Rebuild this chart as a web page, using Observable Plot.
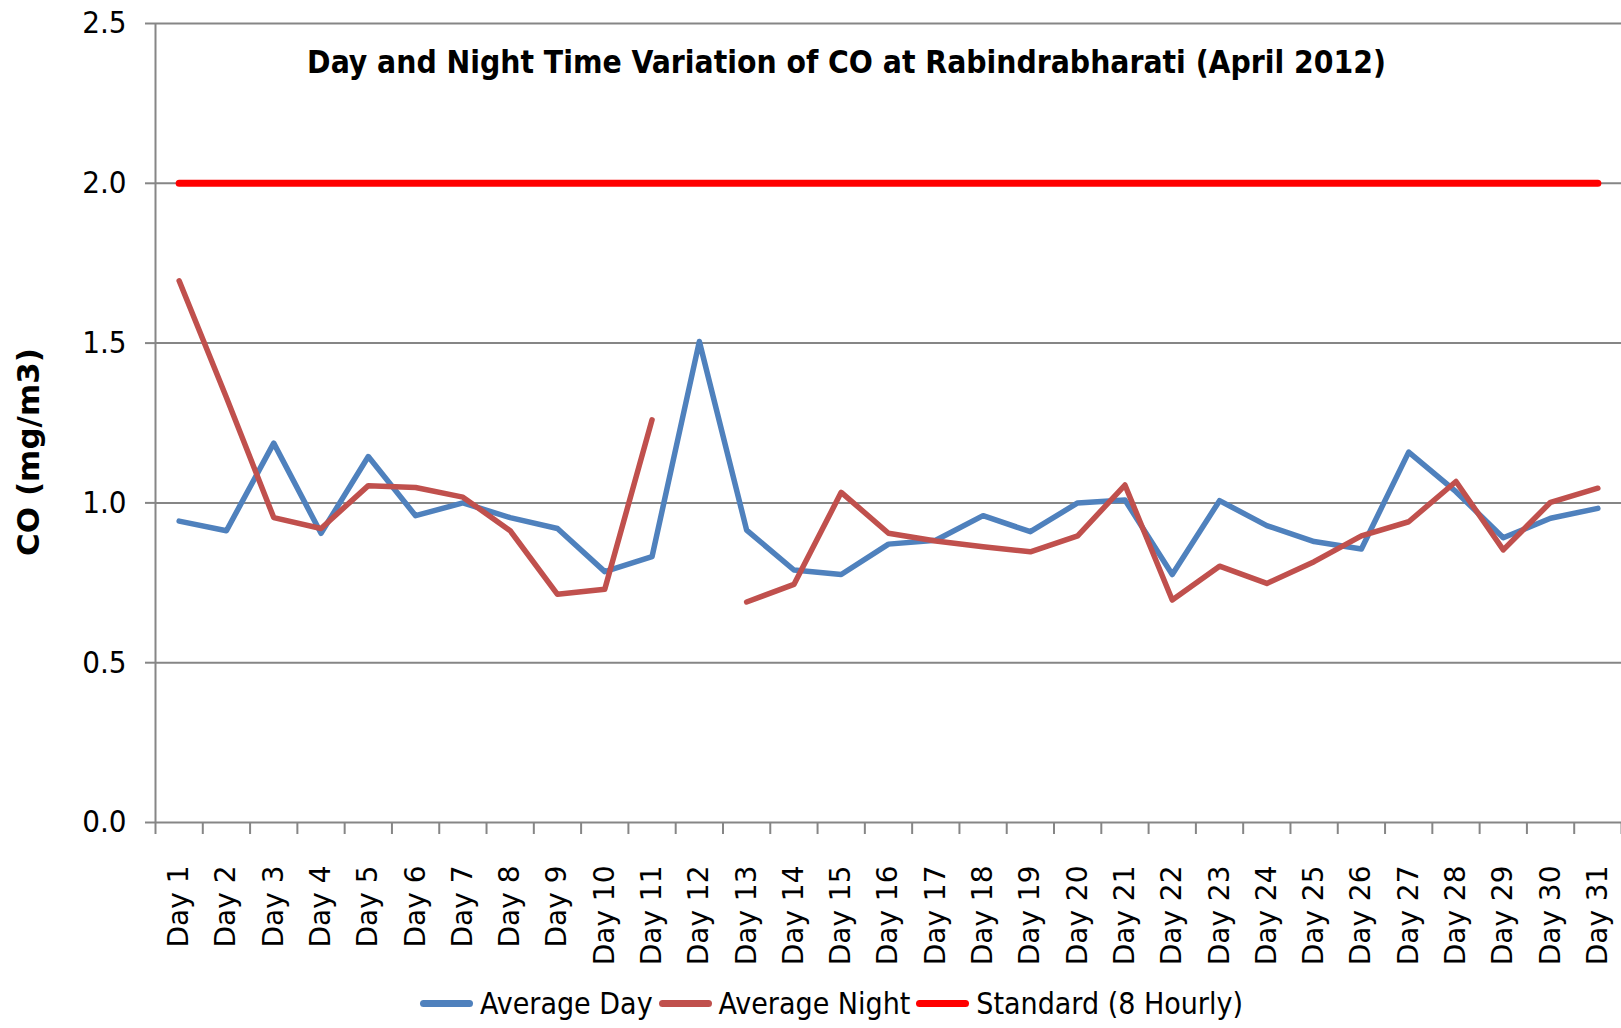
<!DOCTYPE html>
<html>
<head>
<meta charset="utf-8">
<script src="https://cdn.jsdelivr.net/npm/d3@7"></script>
<script src="https://cdn.jsdelivr.net/npm/@observablehq/plot@0.6"></script>
<style>
  html, body { margin: 0; padding: 0; background: white; }
  #wrap { width: 1621px; height: 1028px; position: relative; overflow: hidden; }
  .legend { position: absolute; top: 975px; left: 24px; width: 1621px; height: 56px;
    display: flex; justify-content: center; align-items: center;
    font-family: "Liberation Sans Narrow", "DejaVu Sans Condensed", "Arial Narrow", sans-serif;
    font-size: 30px; color: #000; }
  .legend .item { display: flex; align-items: center; margin-right: 6px; }
  .legend .sw { width: 53px; height: 7px; border-radius: 4px; margin-right: 7px; }
</style>
</head>
<body>
<div id="wrap"></div>
<script>
const titleText = "Day and Night Time Variation of CO at Rabindrabharati (April 2012)";
const yLabel = "CO (mg/m3)";
const dayLabels = ["Day 1","Day 2","Day 3","Day 4","Day 5","Day 6","Day 7","Day 8","Day 9","Day 10",
  "Day 11","Day 12","Day 13","Day 14","Day 15","Day 16","Day 17","Day 18","Day 19","Day 20",
  "Day 21","Day 22","Day 23","Day 24","Day 25","Day 26","Day 27","Day 28","Day 29","Day 30","Day 31"];
const averageDay = [0.943,0.913,1.187,0.905,1.145,0.96,1.0,0.954,0.92,0.785,
  0.832,1.505,0.915,0.79,0.776,0.871,0.883,0.96,0.91,1.0,
  1.009,0.776,1.007,0.929,0.879,0.856,1.159,1.035,0.891,0.952,0.983];
const averageNight = [1.695,1.33,0.954,0.92,1.054,1.048,1.018,0.913,0.714,0.73,
  1.26,null,0.69,0.745,1.033,0.905,0.881,0.863,0.847,0.897,
  1.056,0.696,0.802,0.748,0.816,0.897,0.941,1.067,0.853,1.002,1.046];
const standard8h = [2.0,2.0,2.0,2.0,2.0,2.0,2.0,2.0,2.0,2.0,
  2.0,2.0,2.0,2.0,2.0,2.0,2.0,2.0,2.0,2.0,
  2.0,2.0,2.0,2.0,2.0,2.0,2.0,2.0,2.0,2.0,2.0];
const yTicks = [0, 0.5, 1.0, 1.5, 2.0, 2.5];
const seriesNames = ["Average Day", "Average Night", "Standard (8 Hourly)"];
const seriesColors = ["#4F81BD", "#C0504D", "#FF0000"];

const narrow = "Liberation Sans Narrow, DejaVu Sans Condensed, Arial Narrow, sans-serif";
const dayIndex = dayLabels.map((d, i) => i + 1);
const bounds = d3.range(0.5, dayLabels.length + 1, 1);
const grid = "#868686";

const chart = Plot.plot({
  width: 1621, height: 975,
  marginTop: 23, marginBottom: 153, marginLeft: 155, marginRight: 0,
  style: { background: "white", fontFamily: "DejaVu Sans", color: "black" },
  x: { domain: [0.5, dayLabels.length + 0.5] },
  y: { domain: [0, 2.5] },
  marks: [
    Plot.ruleY(yTicks, { stroke: grid, strokeWidth: 2 }),
    Plot.ruleX([0.5], { stroke: grid, strokeWidth: 2, y1: 0, y2: 2.5 }),
    Plot.axisY({ ticks: yTicks, tickFormat: d => d.toFixed(1), tickSize: 10, tickPadding: 19,
      stroke: grid, strokeWidth: 2, strokeOpacity: 1, fontSize: 31, fontFamily: narrow, label: null }),
    Plot.axisX({ ticks: bounds, tickFormat: () => "", tickSize: 12, stroke: grid, strokeWidth: 2, strokeOpacity: 1, label: null }),
    Plot.axisX({ ticks: dayIndex, tickFormat: i => dayLabels[i - 1], tickSize: 0, tickPadding: 43,
      tickRotate: -90, fontSize: 28, fontFamily: "DejaVu Sans", label: null }),
    Plot.line(dayIndex, { x: i => i, y: i => averageDay[i - 1], stroke: seriesColors[0], strokeWidth: 5.5,
      strokeLinejoin: "round", strokeLinecap: "round" }),
    Plot.line(dayIndex, { x: i => i, y: i => averageNight[i - 1], stroke: seriesColors[1], strokeWidth: 5.5,
      strokeLinejoin: "round", strokeLinecap: "round" }),
    Plot.line(dayIndex, { x: i => i, y: i => standard8h[i - 1], stroke: seriesColors[2], strokeWidth: 7,
      strokeLinecap: "round" }),
    Plot.text([titleText], { text: d => d, frameAnchor: "top", dx: -42, dy: 39, lineAnchor: "middle",
      fontSize: 31.5, fontWeight: "bold", fontFamily: narrow, fill: "black" }),
    Plot.text([yLabel], { text: d => d, frameAnchor: "left", rotate: -90, dx: -126, dy: 29,
      textAnchor: "middle", lineAnchor: "middle", fontSize: 31, fontWeight: "bold", fontFamily: "DejaVu Sans", fill: "black" })
  ]
});

const wrap = document.getElementById("wrap");
wrap.appendChild(chart);
const legend = document.createElement("div");
legend.className = "legend";
seriesNames.forEach((name, i) => {
  const item = document.createElement("div");
  item.className = "item";
  const sw = document.createElement("span");
  sw.className = "sw";
  sw.style.background = seriesColors[i];
  const lab = document.createElement("span");
  lab.textContent = name;
  item.appendChild(sw);
  item.appendChild(lab);
  legend.appendChild(item);
});
wrap.appendChild(legend);
</script>
</body>
</html>
